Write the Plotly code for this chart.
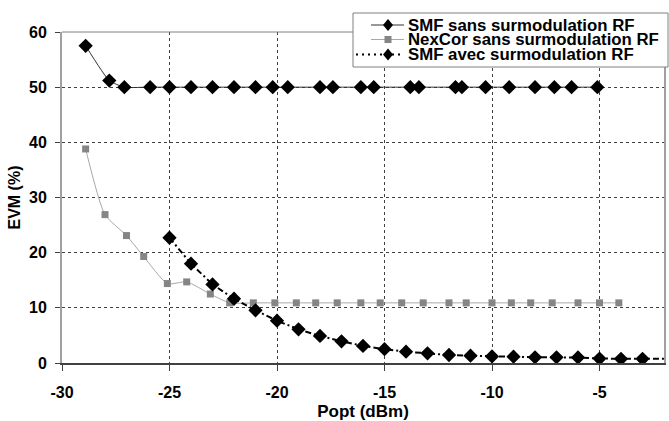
import plotly.graph_objects as go

# ---- data ----
smf_sans_x = [-28.9, -27.8, -27.1, -25.9, -25.0, -24.0, -23.0, -22.0, -21.0, -20.2, -19.5,
              -18.0, -17.4, -16.1, -15.5, -13.8, -13.4, -11.7, -11.4, -10.3, -9.2, -8.0,
              -7.1, -6.3, -5.1]
smf_sans_y = [57.5, 51.2, 50.0, 50.0, 50.0, 50.0, 50.0, 50.0, 50.0, 50.0, 50.0,
              50.0, 50.0, 50.0, 50.0, 50.0, 50.0, 50.0, 50.0, 50.0, 50.0, 50.0,
              50.0, 50.0, 50.0]

nexcor_x = [-28.9, -28.0, -27.0, -26.2, -25.1, -24.2, -23.1, -22.2, -21.1, -20.1, -19.1,
            -18.2, -17.2, -16.1, -15.2, -14.2, -13.2, -12.0, -11.2, -10.0, -9.1, -8.2,
            -7.2, -6.0, -5.0, -4.1]
nexcor_y = [38.8, 26.9, 23.1, 19.3, 14.4, 14.7, 12.5, 10.9, 10.9, 10.9, 10.9,
            10.9, 10.9, 10.9, 10.9, 10.9, 10.9, 10.9, 10.9, 10.9, 10.9, 10.9,
            10.9, 10.9, 10.9, 10.9]

smf_avec_x = [-25, -24, -23, -22, -21, -20, -19, -18, -17, -16, -15, -14, -13, -12,
              -11, -10, -9, -8, -7, -6, -5, -4, -3, -1]
smf_avec_y = [22.7, 18.0, 14.25, 11.65, 9.55, 7.67, 6.1, 4.9, 3.93, 3.1, 2.5, 2.05,
              1.75, 1.45, 1.33, 1.2, 1.15, 1.03, 1.03, 1.0, 0.8, 0.75, 0.75, 0.75]

series_names = ["SMF sans surmodulation RF", "NexCor sans surmodulation RF",
                "SMF avec surmodulation RF"]

x_tickvals = [-30, -25, -20, -15, -10, -5]
x_ticktext = ["-30", "-25", "-20", "-15", "-10", "-5"]
y_tickvals = [0, 10, 20, 30, 40, 50, 60]

FONT = "Liberation Sans, Arial, sans-serif"

fig = go.Figure()
fig.add_trace(go.Scatter(x=nexcor_x, y=nexcor_y, mode="lines+markers", name=series_names[1],
                         line=dict(color="#a8a8a8", width=1, shape="spline", smoothing=0.6),
                         marker=dict(symbol="square", size=7, color="#858585")))
fig.add_trace(go.Scatter(x=smf_sans_x, y=smf_sans_y, mode="lines+markers", name=series_names[0],
                         line=dict(color="#303030", width=1, shape="spline", smoothing=0.5),
                         marker=dict(symbol="diamond", size=11, color="black")))
fig.add_trace(go.Scatter(x=smf_avec_x, y=smf_avec_y, mode="lines+markers", name=series_names[2],
                         line=dict(color="black", width=2, dash="6px,3px,2px,3px"),
                         marker=dict(symbol="diamond", size=11, color="black")))

L, R, T, B = 62, 664, 32, 363
W, H = 669, 421


def px(x):
    return (x - L) / (R - L)


def py(y):
    return (B - y) / (B - T)


shapes = []
shapes.append(dict(type="line", xref="paper", yref="paper", x0=0, x1=1, y0=1, y1=1,
                   line=dict(color="#808080", width=1), layer="above"))
shapes.append(dict(type="rect", xref="paper", yref="paper", x0=px(353), x1=px(668),
                   y0=py(67), y1=py(13), fillcolor="white",
                   line=dict(color="#808080", width=1), layer="above"))
rows = [25, 39.5, 54.5]


def diamond(cx, cy, hw=5, hh=6):
    return (f"M {px(cx-hw)},{py(cy)} L {px(cx)},{py(cy-hh)} L {px(cx+hw)},{py(cy)} "
            f"L {px(cx)},{py(cy+hh)} Z")


def square(cx, cy, h=3.5):
    return (f"M {px(cx-h)},{py(cy-h)} L {px(cx+h)},{py(cy-h)} L {px(cx+h)},{py(cy+h)} "
            f"L {px(cx-h)},{py(cy+h)} Z")


shapes.append(dict(type="line", xref="paper", yref="paper", x0=px(371), x1=px(404),
                   y0=py(rows[0]), y1=py(rows[0]), line=dict(color="#303030", width=1), layer="above"))
shapes.append(dict(type="path", xref="paper", yref="paper", path=diamond(388, rows[0]),
                   fillcolor="black", line=dict(width=0), layer="above"))
shapes.append(dict(type="line", xref="paper", yref="paper", x0=px(371), x1=px(404),
                   y0=py(rows[1]), y1=py(rows[1]), line=dict(color="#a8a8a8", width=1), layer="above"))
shapes.append(dict(type="path", xref="paper", yref="paper", path=square(388, rows[1]),
                   fillcolor="#858585", line=dict(width=0), layer="above"))
shapes.append(dict(type="line", xref="paper", yref="paper", x0=px(356), x1=px(404),
                   y0=py(rows[2]), y1=py(rows[2]),
                   line=dict(color="black", width=2, dash="2px,4px"), layer="above"))
shapes.append(dict(type="path", xref="paper", yref="paper", path=diamond(388, rows[2]),
                   fillcolor="black", line=dict(width=0), layer="above"))

annotations = []
for name, ry in zip(series_names, rows):
    annotations.append(dict(xref="paper", yref="paper", x=px(407), y=py(ry),
                            xanchor="left", yanchor="middle", text="<b>" + name + "</b>",
                            showarrow=False, borderpad=0,
                            font=dict(family=FONT, size=16.8, color="black")))

fig.update_layout(
    width=W, height=H,
    margin=dict(l=L, r=W - R, t=T, b=H - B, pad=0),
    paper_bgcolor="white", plot_bgcolor="white",
    showlegend=False,
    shapes=shapes, annotations=annotations,
    font=dict(family=FONT, color="black"),
)
fig.update_xaxes(
    range=[-30, -2], tickvals=x_tickvals, ticktext=["<b>" + t + "</b>" for t in x_ticktext],
    showgrid=True, gridcolor="#404040", griddash="dot", gridwidth=1,
    zeroline=False, showline=True, linecolor="#404040", linewidth=1.5,
    ticks="outside", ticklen=6, tickcolor="#404040", tickwidth=1,
    tickfont=dict(family=FONT, size=16, color="black"),
    ticklabelstandoff=8, automargin=False,
    title=dict(text="<b>Popt (dBm)</b>", font=dict(family=FONT, size=17, color="black"),
               standoff=9),
)
fig.update_yaxes(
    range=[0, 60], tickvals=y_tickvals, ticktext=["<b>%d</b>" % v for v in y_tickvals],
    showgrid=True, gridcolor="#404040", griddash="dot", gridwidth=1,
    zeroline=False, showline=True, linecolor="#a0a0a0", linewidth=2, mirror=True,
    ticks="outside", ticklen=5, tickcolor="#404040", tickwidth=1,
    tickfont=dict(family=FONT, size=16, color="black"),
    ticklabelstandoff=5, automargin=False,
    title=dict(text="<b>EVM (%)</b>", font=dict(family=FONT, size=16, color="black"),
               standoff=4),
)

fig.write_html("out.html", config={"displayModeBar": False},
               post_script="document.body.style.margin='0';")
